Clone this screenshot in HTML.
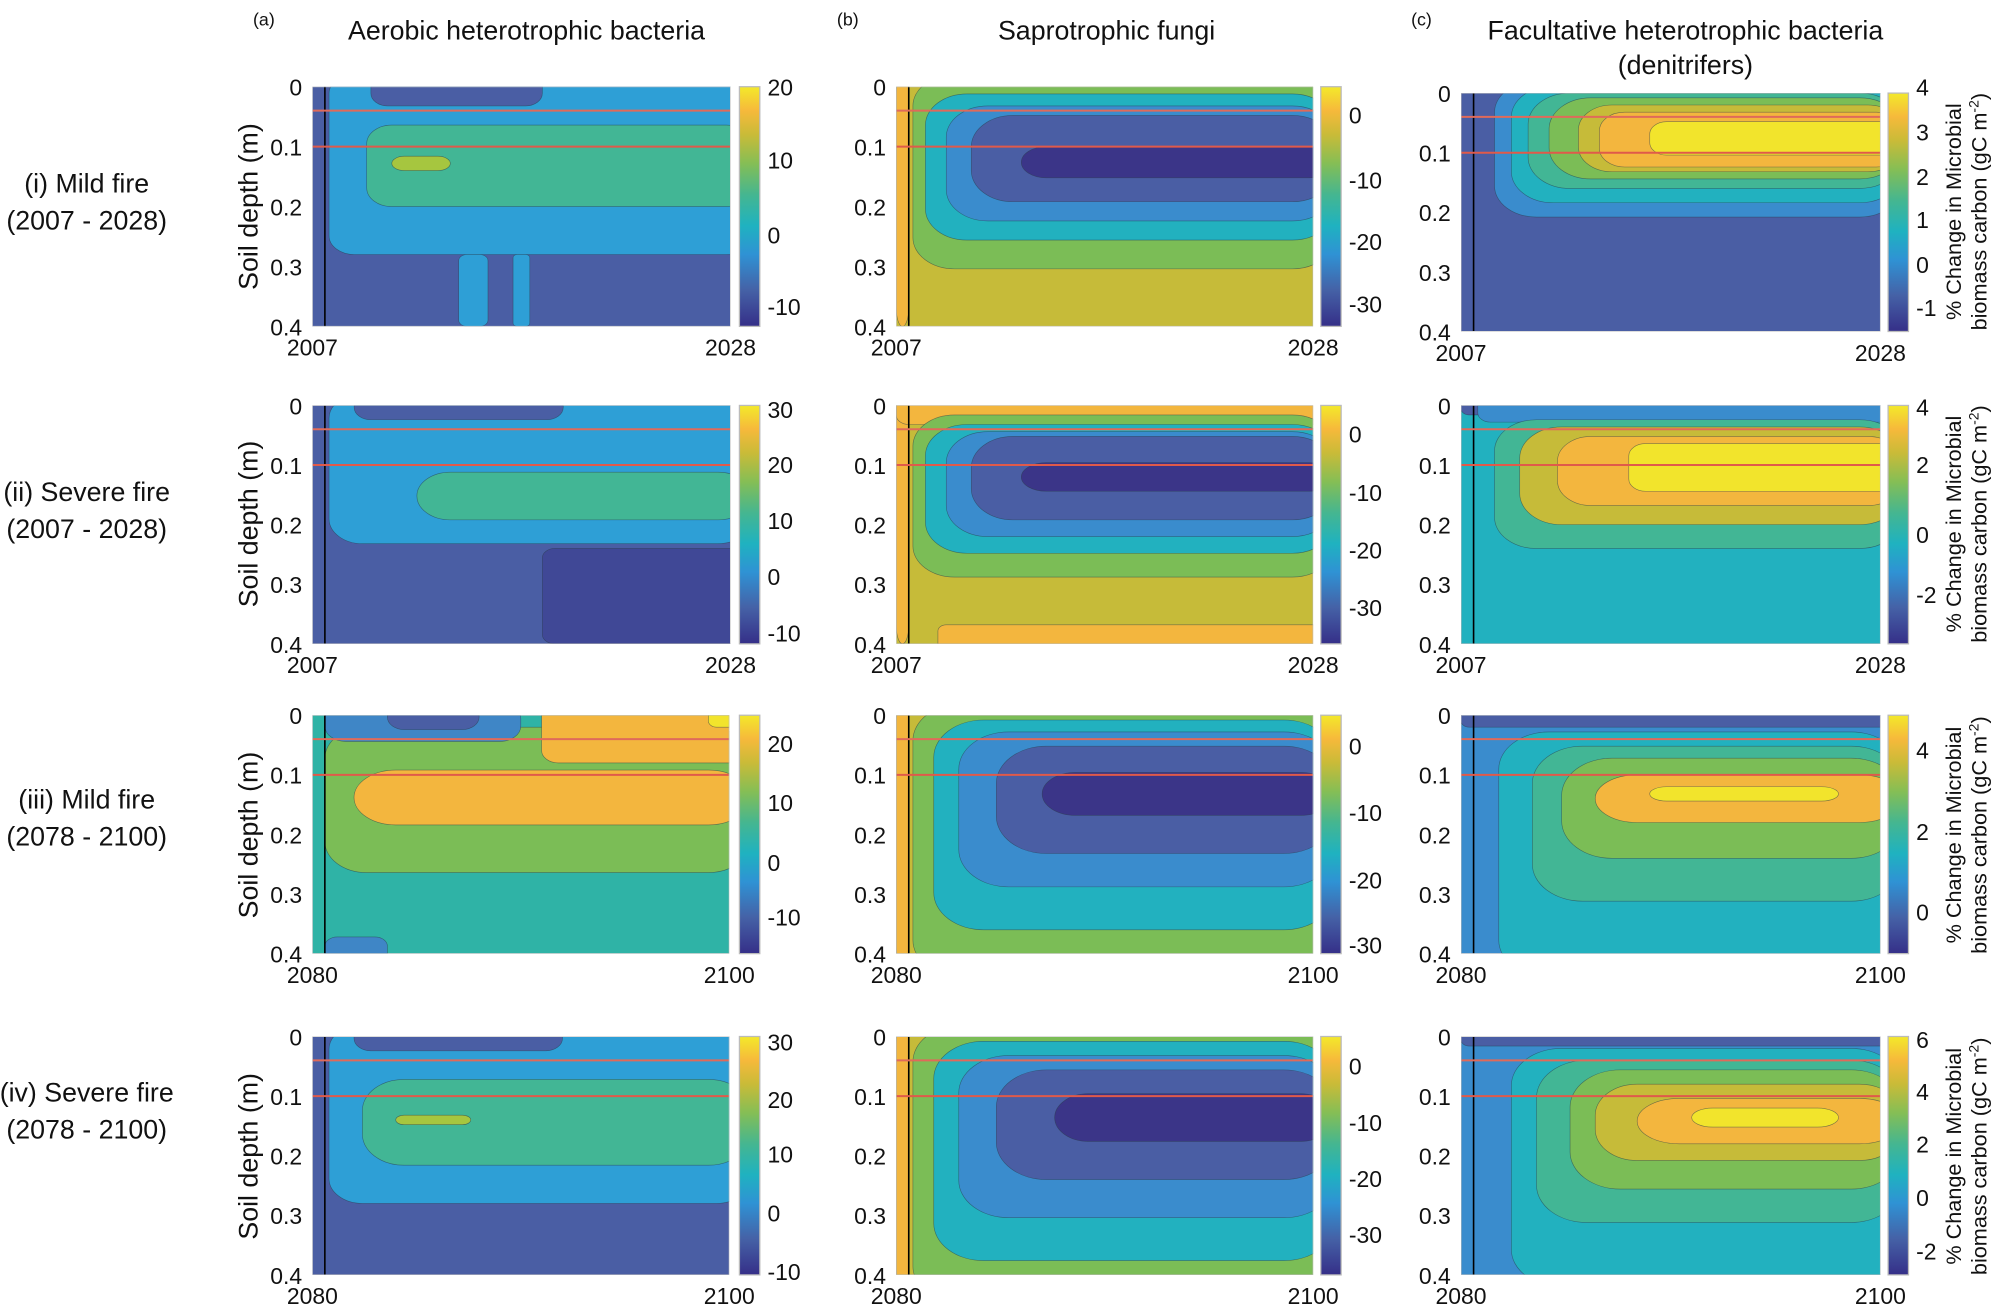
<!DOCTYPE html>
<html><head><meta charset="utf-8"><style>
html,body{margin:0;padding:0;background:#fff;}
svg text{font-family:"Liberation Sans",Arial,sans-serif;fill:#111;}
</style></head><body>
<svg id="s" xmlns="http://www.w3.org/2000/svg" width="1999" height="1311" viewBox="0 0 1568 1028.3">
<defs>
<linearGradient id="cb" x1="0" y1="1" x2="0" y2="0">
<stop offset="0" stop-color="#352f88"/><stop offset="0.15" stop-color="#4561a6"/>
<stop offset="0.3" stop-color="#2f92d4"/><stop offset="0.42" stop-color="#1fb2c0"/>
<stop offset="0.55" stop-color="#45b690"/><stop offset="0.68" stop-color="#85be55"/>
<stop offset="0.8" stop-color="#c9bb38"/><stop offset="0.9" stop-color="#f6b93b"/>
<stop offset="1" stop-color="#f3e92a"/></linearGradient>
</defs>
<g id="g"></g>
</svg>
<script>
var D0='#3b3588',D1='#4a5ea4',B='#3a8ccd',B2='#2e9fd6',C='#22b1bf',T2='#2fb3a6',T='#42b695',G='#7bbd56',Y1='#c6bb39',O='#f3b63e',Y='#f2e42c';
var out='';
function txt(x,y,s,sz,anc,extra){out+='<text x="'+x+'" y="'+y+'" font-size="'+sz+'" text-anchor="'+(anc||'middle')+'" '+(extra||'')+'>'+s+'</text>';}
function panel(x,y,w,h,bg,layers,xl,ticks,cbx){
 out+='<svg x="'+x+'" y="'+y+'" width="'+w+'" height="'+h+'" viewBox="0 0 100 100" preserveAspectRatio="none">';
 out+='<rect width="100" height="100" fill="'+bg+'"/>';
 layers.forEach(function(l){var rx=l[5]||6;out+='<rect x="'+l[0]+'" y="'+l[1]+'" width="'+(l[2]-l[0])+'" height="'+(l[3]-l[1])+'" rx="'+rx+'" ry="'+(rx*1.3)+'" fill="'+l[4]+'" stroke="#2a3a4a" stroke-width="0.6" stroke-opacity="0.6" vector-effect="non-scaling-stroke"/>';});
 out+='<line x1="3" y1="0" x2="3" y2="100" stroke="#000" stroke-width="1.6" vector-effect="non-scaling-stroke"/>';
 out+='<line x1="0" y1="10" x2="100" y2="10" stroke="#e06a5a" stroke-width="2" vector-effect="non-scaling-stroke"/>';
 out+='<line x1="0" y1="25" x2="100" y2="25" stroke="#e05a4a" stroke-width="2" vector-effect="non-scaling-stroke"/>';
 out+='<rect width="100" height="100" fill="none" stroke="#bbb" stroke-width="1" vector-effect="non-scaling-stroke"/></svg>';
 var labs=['0','0.1','0.2','0.3','0.4'];
 for(var i=0;i<5;i++)txt(x-8,y+h*i/4+7,labs[i],18,'end');
 txt(x,y+h+23,xl[0],18);txt(x+w,y+h+23,xl[1],18);
 out+='<rect x="'+cbx+'" y="'+y+'" width="16" height="'+h+'" fill="url(#cb)" stroke="#bbb" stroke-width="1"/>';
 ticks.forEach(function(t){txt(cbx+22,t[1]+7,t[0],18,'start');});
}
txt(207,20,'(a)',14);txt(413,31,'Aerobic heterotrophic bacteria',21);
txt(665,20,'(b)',14);txt(868,31,'Saprotrophic fungi',21);
txt(1115,20,'(c)',14);txt(1322,31,'Facultative heterotrophic bacteria',21);txt(1322,58,'(denitrifers)',21);
var rows=[['(i) Mild fire','(2007 - 2028)',151],['(ii) Severe fire','(2007 - 2028)',393],['(iii) Mild fire','(2078 - 2100)',634],['(iv) Severe fire','(2078 - 2100)',864]];
rows.forEach(function(r){txt(68,r[2],r[0],21);txt(68,r[2]+29,r[1],21);});
[162,411,655,907].forEach(function(c){txt(0,0,'Soil depth (m)',21,'middle','transform="translate(202,'+c+') rotate(-90)"');});
[166,411,655,907].forEach(function(c){txt(0,0,'% Change in Microbial',17,'middle','transform="translate(1538,'+c+') rotate(-90)"');txt(0,0,'biomass carbon (gC m<tspan dy="-6" font-size="11">-2</tspan><tspan dy="6">)</tspan>',17,'middle','transform="translate(1558,'+c+') rotate(-90)"');});
var xa=['2007','2028'],xb=['2080','2100'];
panel(245,68,328,188,D1,[[4,-5,105,70,B2,6],[14,-5,55,8,D1,4],[13,16,105,50,T,6],[19,29,33,35,'#a6c63f',3],[35,70,42,100,B2,2],[48,70,52,100,B2,1]],xa,[['20',68],['10',125],['0',184],['-10',240]],580);
panel(703,68,327,188,Y1,[[0,-5,3,100,O,0],[4,-5,105,76,G,10],[7,3,105,64,C,10],[12,8,105,56,B,10],[18,12,105,48,D1,10],[30,25,105,38,D0,6]],xa,[['0',90],['-10',141],['-20',189],['-30',238]],1036);
panel(1146,73,329,187,D1,[[8,-5,105,52,B,10],[12,-3,105,46,C,10],[16,0,105,40,T,10],[21,2,105,36,G,10],[28,5,105,33,Y1,8],[33,8,105,31,O,6],[45,12,105,26,Y,4]],xa,[['4',68],['3',103],['2',138],['1',172],['0',207],['-1',241]],1481);
panel(245,318,328,187,D1,[[4,-5,105,58,B2,8],[10,-5,60,6,D1,4],[25,28,105,48,T,8],[55,60,105,100,'#404896',3]],xa,[['30',321],['20',364],['10',408],['0',452],['-10',496]],580);
panel(703,318,327,187,Y1,[[0,-5,3,100,O,0],[0,-5,105,8,O,3],[4,4,105,72,G,10],[7,8,105,62,C,10],[12,11,105,55,B,10],[18,13,105,48,D1,10],[30,24,105,36,D0,6],[10,92,105,105,O,2]],xa,[['0',340],['-10',386],['-20',431],['-30',476]],1036);
panel(1146,318,329,187,C,[[0,-5,105,4,D1,2],[4,-5,105,7,B,3],[8,6,105,60,T,10],[14,9,105,50,Y1,10],[23,13,105,42,O,8],[40,16,105,36,Y,4]],xa,[['4',319],['2',364],['0',419],['-2',466]],1481);
panel(245,561,327,187,T2,[[3,5,105,66,G,10],[55,-5,105,20,O,4],[10,23,105,46,O,10],[95,-5,105,5,Y,2],[3,-5,50,11,'#3f86c6',5],[18,-5,40,6,D1,4],[3,93,18,105,'#3f86c6',3]],xb,[['20',583],['10',629],['0',676],['-10',719]],580);
panel(703,561,327,187,Y1,[[0,-5,3,105,O,0],[4,-5,105,110,G,12],[9,2,105,90,C,12],[15,7,105,72,B,12],[24,13,105,58,D1,12],[35,24,105,42,D0,8]],xb,[['0',585],['-10',637],['-20',690],['-30',741]],1036);
panel(1146,561,329,187,B,[[0,-5,105,5,D1,2],[9,7,105,110,C,12],[17,13,105,78,T,12],[24,18,105,60,G,12],[32,25,105,45,O,10],[45,30,90,36,Y,4]],xb,[['4',588],['2',652],['0',715]],1481);
panel(245,813,327,187,D1,[[4,-5,105,70,B2,8],[10,-5,60,6,D1,4],[12,18,105,54,T,10],[20,33,38,37,'#a6c63f',2]],xb,[['30',817],['20',862],['10',905],['0',951],['-10',997]],580);
panel(703,813,327,187,Y1,[[0,-5,3,105,O,0],[4,-5,105,112,G,12],[9,2,105,94,C,12],[15,8,105,76,B,12],[24,14,105,60,D1,12],[38,24,105,44,D0,8]],xb,[['0',836],['-10',880],['-20',924],['-30',968]],1036);
panel(1146,813,329,187,B,[[0,-5,105,4,D1,2],[12,5,105,105,C,12],[18,10,105,78,T,12],[26,14,105,64,G,12],[32,20,105,52,Y1,10],[42,26,105,45,O,10],[55,30,90,38,Y,5]],xb,[['6',815],['4',856],['2',897],['0',939],['-2',981]],1481);
document.getElementById('g').innerHTML=out;
</script>
</body></html>
